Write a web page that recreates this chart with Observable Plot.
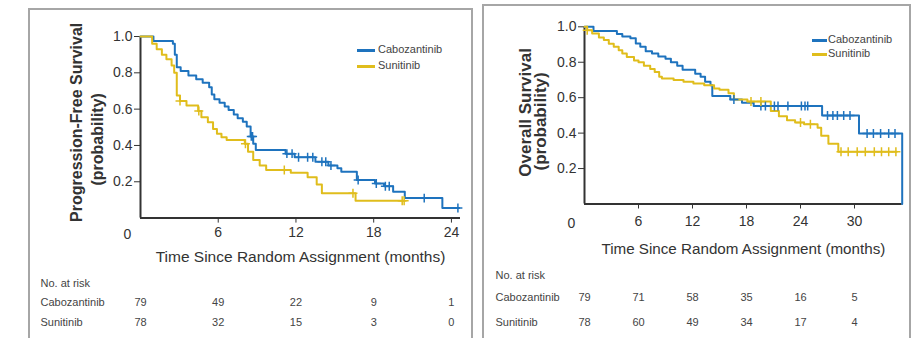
<!DOCTYPE html>
<html><head><meta charset="utf-8">
<script src="https://cdn.jsdelivr.net/npm/d3@7"></script>
<script src="https://cdn.jsdelivr.net/npm/@observablehq/plot@0.6"></script>
<style>
body{margin:0;background:#fff;}
#wrap{position:relative;width:915px;height:338px;overflow:hidden;background:#fff;}
.panel{position:absolute;border:2px solid #a6a6a6;box-sizing:border-box;}
.chart{position:absolute;top:0;}
.legend{position:absolute;font:11px "Liberation Sans",Arial,sans-serif;color:#444;}
.legend div{height:16px;line-height:16px;white-space:nowrap;}
.legend span.sw{display:inline-block;height:3px;vertical-align:middle;}
</style></head><body><div id="wrap">
<div class="panel" style="left:28px;top:8px;width:445px;height:345px"></div>
<div class="panel" style="left:482px;top:4px;width:429px;height:349px"></div>
</div>
<script>
// ---------- data ----------
const arms = ["Cabozantinib", "Sunitinib"];
const armColors = ["#1e73be", "#e0bd1c"];
const yTicks = [0.2, 0.4, 0.6, 0.8, 1.0];
const xTitle = "Time Since Random Assignment (months)";
const pfsYTitle = ["Progression-Free Survival", "(probability)"];
const osYTitle = ["Overall Survival", "(probability)"];
const riskLabel = "No. at risk";

// PFS (left)
const pfsTicks = [0, 6, 12, 18, 24];
const pfsCaboT = [0, 1.0, 2.5, 2.65, 2.8, 3.1, 3.7, 4.3, 4.8, 5.3, 5.5, 5.7, 6.1, 6.5, 6.8, 7.2, 7.5, 7.9, 8.2, 8.5, 8.7, 8.9, 11.2, 11.9, 13.5, 14.5, 15.2, 15.5, 16.7, 18.1, 18.8, 19.5, 20.4, 23.3, 24.6];
const pfsCaboS = [1.0, 0.975, 0.96, 0.90, 0.83, 0.81, 0.785, 0.765, 0.745, 0.72, 0.68, 0.655, 0.635, 0.615, 0.595, 0.57, 0.55, 0.53, 0.505, 0.45, 0.41, 0.375, 0.355, 0.335, 0.31, 0.29, 0.275, 0.255, 0.21, 0.19, 0.175, 0.145, 0.11, 0.055, 0.055];
const pfsSuniT = [0, 0.9, 1.25, 1.65, 2.0, 2.4, 2.6, 2.8, 3.05, 3.55, 4.45, 4.7, 5.2, 5.6, 5.9, 6.25, 6.65, 8.05, 8.3, 8.7, 9.2, 9.7, 11.6, 12.9, 13.6, 14.0, 16.6, 20.4];
const pfsSuniS = [1.0, 0.96, 0.93, 0.90, 0.875, 0.84, 0.80, 0.675, 0.645, 0.62, 0.59, 0.555, 0.528, 0.49, 0.465, 0.445, 0.43, 0.41, 0.365, 0.32, 0.29, 0.265, 0.25, 0.225, 0.185, 0.137, 0.095, 0.095];
const pfsCaboCens = [8.55, 8.65, 11.3, 11.7, 12.2, 12.9, 13.3, 14.0, 14.3, 14.7, 16.8, 18.2, 18.9, 19.2, 21.9, 24.5];
const pfsSuniCens = [3.05, 4.5, 8.1, 11.1, 16.4, 20.2, 20.35];
const pfsRiskCabo = [79, 49, 22, 9, 1];
const pfsRiskSuni = [78, 32, 15, 3, 0];

// OS (right)
const osTicks = [0, 6, 12, 18, 24, 30];
const osCaboT = [0, 1.0, 3.6, 4.2, 5.1, 5.7, 6.2, 6.8, 7.5, 8.2, 9.0, 9.6, 10.3, 10.9, 12.3, 12.9, 13.4, 14.0, 14.2, 16.2, 17.5, 18.8, 26.4, 30.5, 35.3];
const osCaboS = [1.0, 0.977, 0.96, 0.945, 0.935, 0.906, 0.887, 0.862, 0.85, 0.832, 0.82, 0.80, 0.78, 0.758, 0.735, 0.718, 0.69, 0.67, 0.61, 0.59, 0.572, 0.553, 0.50, 0.398, 0];
const osSuniT = [0, 0.3, 0.85, 1.6, 2.15, 2.7, 3.25, 3.8, 4.2, 4.7, 5.5, 6.0, 6.6, 7.3, 7.8, 8.3, 8.6, 9.9, 11.0, 12.1, 13.3, 14.4, 15.0, 16.0, 16.6, 18.1, 20.7, 21.6, 22.5, 23.4, 24.4, 25.9, 26.3, 27.1, 28.2, 34.7];
const osSuniS = [1.0, 0.98, 0.962, 0.94, 0.925, 0.905, 0.887, 0.868, 0.85, 0.83, 0.81, 0.80, 0.78, 0.762, 0.745, 0.718, 0.708, 0.70, 0.69, 0.68, 0.67, 0.652, 0.645, 0.625, 0.59, 0.578, 0.525, 0.495, 0.472, 0.46, 0.45, 0.43, 0.385, 0.34, 0.295, 0.295];
const osCaboCens = [16.6, 19.6, 20.1, 21.1, 21.5, 22.6, 24.1, 24.5, 24.8, 27.0, 27.6, 28.1, 28.8, 29.5, 31.4, 32.1, 32.9, 33.8, 34.5];
const osSuniCens = [0.3, 18.5, 19.6, 24.0, 25.1, 28.5, 29.3, 30.3, 31.2, 32.2, 33.0, 33.8, 34.6];
const osRiskCabo = [79, 71, 58, 35, 16, 5];
const osRiskSuni = [78, 60, 49, 34, 17, 4];

// ---------- helpers ----------
const fontNarrow = '"Liberation Sans",Arial,sans-serif';
const fontReg = '"Liberation Sans",Arial,sans-serif';
const rows = (T, S, arm) => T.map((t, i) => ({t, s: S[i], arm}));
const stepAt = (T, S, t) => { let v = S[0]; for (let i = 0; i < T.length; i++) { if (T[i] <= t) v = S[i]; } return v; };
const cens = (C, T, S, arm) => C.map(t => ({t, s: stepAt(T, S, t), arm}));

function panel(cfg) {
  const data = [...rows(cfg.caboT, cfg.caboS, arms[0]), ...rows(cfg.suniT, cfg.suniS, arms[1])];
  const cdata = [...cens(cfg.caboC, cfg.caboT, cfg.caboS, arms[0]), ...cens(cfg.suniC, cfg.suniT, cfg.suniS, arms[1])];
  const riskRows = [cfg.riskCabo, cfg.riskSuni];
  const txt = {lineAnchor: "middle"};
  const svg = Plot.plot({
    width: cfg.width, height: 338,
    marginLeft: cfg.ml, marginRight: cfg.mr, marginTop: cfg.mt, marginBottom: cfg.mb,
    x: {domain: [0, cfg.xmax], ticks: cfg.ticks.slice(1), tickSize: 5, tickPadding: cfg.xpad, label: null},
    y: {domain: [0, 1], ticks: yTicks, tickFormat: d3.format(".1f"), tickSize: 6, tickPadding: 2, label: null},
    color: {domain: arms, range: armColors},
    style: {fontFamily: fontNarrow, fontSize: "14px", color: "#333", background: "transparent", overflow: "visible"},
    marks: [
      Plot.ruleX([0], {stroke: "#333", strokeWidth: 2}),
      Plot.ruleY([0], {stroke: "#333", strokeWidth: 2}),
      Plot.line(data, {x: "t", y: "s", z: "arm", stroke: "arm", curve: "step-after", strokeWidth: 2}),
      Plot.dot(cdata, {x: "t", y: "s", stroke: "arm", symbol: "plus", r: 3, strokeWidth: 1.5}),
      Plot.text([cfg.ticks[0]], {...txt, x: d => d, text: d => String(d), frameAnchor: "bottom", dx: -13, dy: cfg.zeroDy, fontSize: 14}),
      Plot.text([xTitle], {...txt, frameAnchor: "bottom", dy: cfg.titleDy, fontSize: cfg.titleSize, fill: "#333"}),
      Plot.text([cfg.yTitle[0]], {...txt, textAnchor: "middle", frameAnchor: "left", rotate: -90, dx: cfg.yt1[0], dy: cfg.yt1[1], fontSize: cfg.ytSize, fontWeight: "bold", fontFamily: fontReg, fill: "#333"}),
      Plot.text([cfg.yTitle[1]], {...txt, textAnchor: "middle", frameAnchor: "left", rotate: -90, dx: cfg.yt2[0], dy: cfg.yt2[1], fontSize: cfg.ytSize, fontWeight: "bold", fontFamily: fontReg, fill: "#333"}),
      Plot.text([riskLabel], {...txt, frameAnchor: "bottom-left", textAnchor: "start", dx: cfg.rowDx, dy: cfg.riskDy[0], fontSize: 11, fontFamily: fontReg, fill: "#444"}),
      ...arms.map((a, k) => Plot.text([a], {...txt, frameAnchor: "bottom-left", textAnchor: "start", dx: cfg.rowDx, dy: cfg.riskDy[k + 1], fontSize: 11, fontFamily: fontReg, fill: "#444"})),
      ...riskRows.map((r, k) => Plot.text(cfg.ticks, {...txt, x: d => d, text: (d, i) => String(r[i]), frameAnchor: "bottom", dy: cfg.riskDy[k + 1], fontSize: 11, fontFamily: fontReg, fill: "#444"}))
    ]
  });
  return svg;
}

const wrap = document.getElementById("wrap");
const left = panel({
  width: 475, ml: 140, mr: 15, mt: 36, mb: 120.4, xmax: 24.7, ticks: pfsTicks, xpad: 4,
  caboT: pfsCaboT, caboS: pfsCaboS, suniT: pfsSuniT, suniS: pfsSuniS, caboC: pfsCaboCens, suniC: pfsSuniCens,
  riskCabo: pfsRiskCabo, riskSuni: pfsRiskSuni, zeroDy: 16.4, titleDy: 39.4, titleSize: 15.5,
  yTitle: pfsYTitle, yt1: [-64, -5], yt2: [-43, 12], ytSize: 16, rowDx: -100, riskDy: [65.4, 84.4, 104.4]
});
left.classList.add("chart"); left.style.left = "0px";
wrap.appendChild(left);

const right = panel({
  width: 455, ml: 124, mr: 13.3, mt: 26.3, mb: 134.5, xmax: 35.3, ticks: osTicks, xpad: 7,
  caboT: osCaboT, caboS: osCaboS, suniT: osSuniT, suniS: osSuniS, caboC: osCaboCens, suniC: osSuniCens,
  riskCabo: osRiskCabo, riskSuni: osRiskSuni, zeroDy: 19.5, titleDy: 45.5, titleSize: 15.2,
  yTitle: osYTitle, yt1: [-59, -3], yt2: [-44, 6], ytSize: 17, rowDx: -89, riskDy: [71.5, 93.5, 118.5]
});
right.classList.add("chart"); right.style.left = "460px";
wrap.appendChild(right);

function legend(x, y, rowH, swW, gap) {
  const lg = document.createElement("div");
  lg.className = "legend";
  lg.style.left = x + "px"; lg.style.top = (y - rowH / 2) + "px";
  arms.forEach((a, k) => {
    const row = document.createElement("div");
    row.style.height = rowH + "px"; row.style.lineHeight = rowH + "px";
    const sw = document.createElement("span");
    sw.className = "sw"; sw.style.width = swW + "px"; sw.style.marginRight = gap + "px"; sw.style.background = armColors[k];
    row.appendChild(sw); row.appendChild(document.createTextNode(a));
    lg.appendChild(row);
  });
  wrap.appendChild(lg);
}
legend(357, 49, 16, 18, 3);
legend(812, 39, 14, 15, 1);
</script>
</body></html>
